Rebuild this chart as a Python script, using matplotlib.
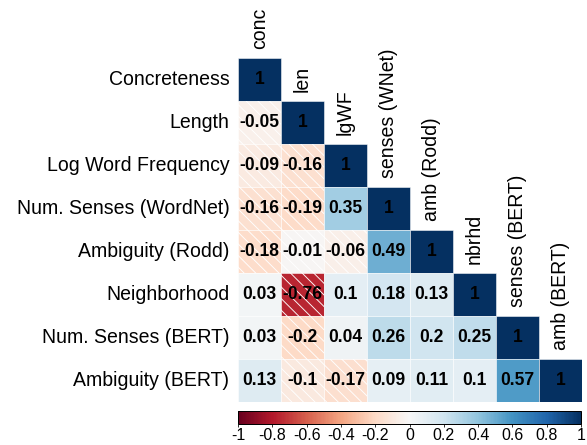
import numpy as np
import matplotlib
matplotlib.use("Agg")
import matplotlib.pyplot as plt
from matplotlib.patches import Rectangle
from matplotlib.colors import Normalize

plt.rcParams['font.family'] = ['Liberation Sans', 'DejaVu Sans']

# variables
row_labels = ["Concreteness", "Length", "Log Word Frequency", "Num. Senses (WordNet)",
              "Ambiguity (Rodd)", "Neighborhood", "Num. Senses (BERT)", "Ambiguity (BERT)"]
col_labels = ["conc", "len", "lgWF", "senses (WNet)", "amb (Rodd)", "nbrhd",
              "senses (BERT)", "amb (BERT)"]

# lower triangle of the correlation matrix, row by row
corr_rows = [
    [1],
    [-0.05, 1],
    [-0.09, -0.16, 1],
    [-0.16, -0.19, 0.35, 1],
    [-0.18, -0.01, -0.06, 0.49, 1],
    [0.03, -0.76, 0.1, 0.18, 0.13, 1],
    [0.03, -0.2, 0.04, 0.26, 0.2, 0.25, 1],
    [0.13, -0.1, -0.17, 0.09, 0.11, 0.1, 0.57, 1],
]
cbar_ticks = [-1, -0.8, -0.6, -0.4, -0.2, 0, 0.2, 0.4, 0.6, 0.8, 1]

cmap = plt.get_cmap("RdBu")
norm = Normalize(-1, 1)
n = len(row_labels)
hatch_step = 0.27  # spacing of the diagonal lines, in cell units

# 72 dpi so that 1 pt == 1 px
W, H = 587, 445
fig = plt.figure(figsize=(W / 72, H / 72), dpi=72)
ax = fig.add_axes([238 / W, 1 - 402 / H, 344 / W, 344 / H])
ax.set_xlim(0, n)
ax.set_ylim(n, 0)
ax.axis("off")

for i, row in enumerate(corr_rows):
    for j, v in enumerate(row):
        cell = Rectangle((j, i), 1, 1, facecolor=cmap(norm(v)),
                         edgecolor="white", linewidth=0.5)
        ax.add_patch(cell)
        if v < 0:
            # white "\" lines over the negative cells
            k0 = int(np.floor((i - j - 1) / hatch_step))
            k1 = int(np.ceil((i - j + 1) / hatch_step))
            xs = np.array([j - 1, j + 2])
            for k in range(k0, k1 + 1):
                line, = ax.plot(xs, xs + k * hatch_step, color="white", lw=0.9)
                line.set_clip_path(cell)
        ax.text(j + 0.5, i + 0.5, f"{v:g}", ha="center", va="center",
                fontsize=17.5, fontweight="bold", color="black")
    ax.text(-0.2, i + 0.5, row_labels[i], ha="right", va="center", fontsize=19.5)
    ax.text(i + 0.5, i - 0.2, col_labels[i], ha="center", va="bottom",
            rotation=90, fontsize=19.5)

cax = fig.add_axes([238 / W, 1 - 424 / H, 343 / W, 13 / H])
sm = plt.cm.ScalarMappable(norm=norm, cmap=cmap)
cb = fig.colorbar(sm, cax=cax, orientation="horizontal", ticks=cbar_ticks)
cb.ax.set_xticklabels([f"{t:g}" for t in cbar_ticks])
cb.ax.tick_params(labelsize=16, length=3, width=0.8, pad=1)
cb.outline.set_linewidth(1)

fig.savefig("out.png", dpi=72)
